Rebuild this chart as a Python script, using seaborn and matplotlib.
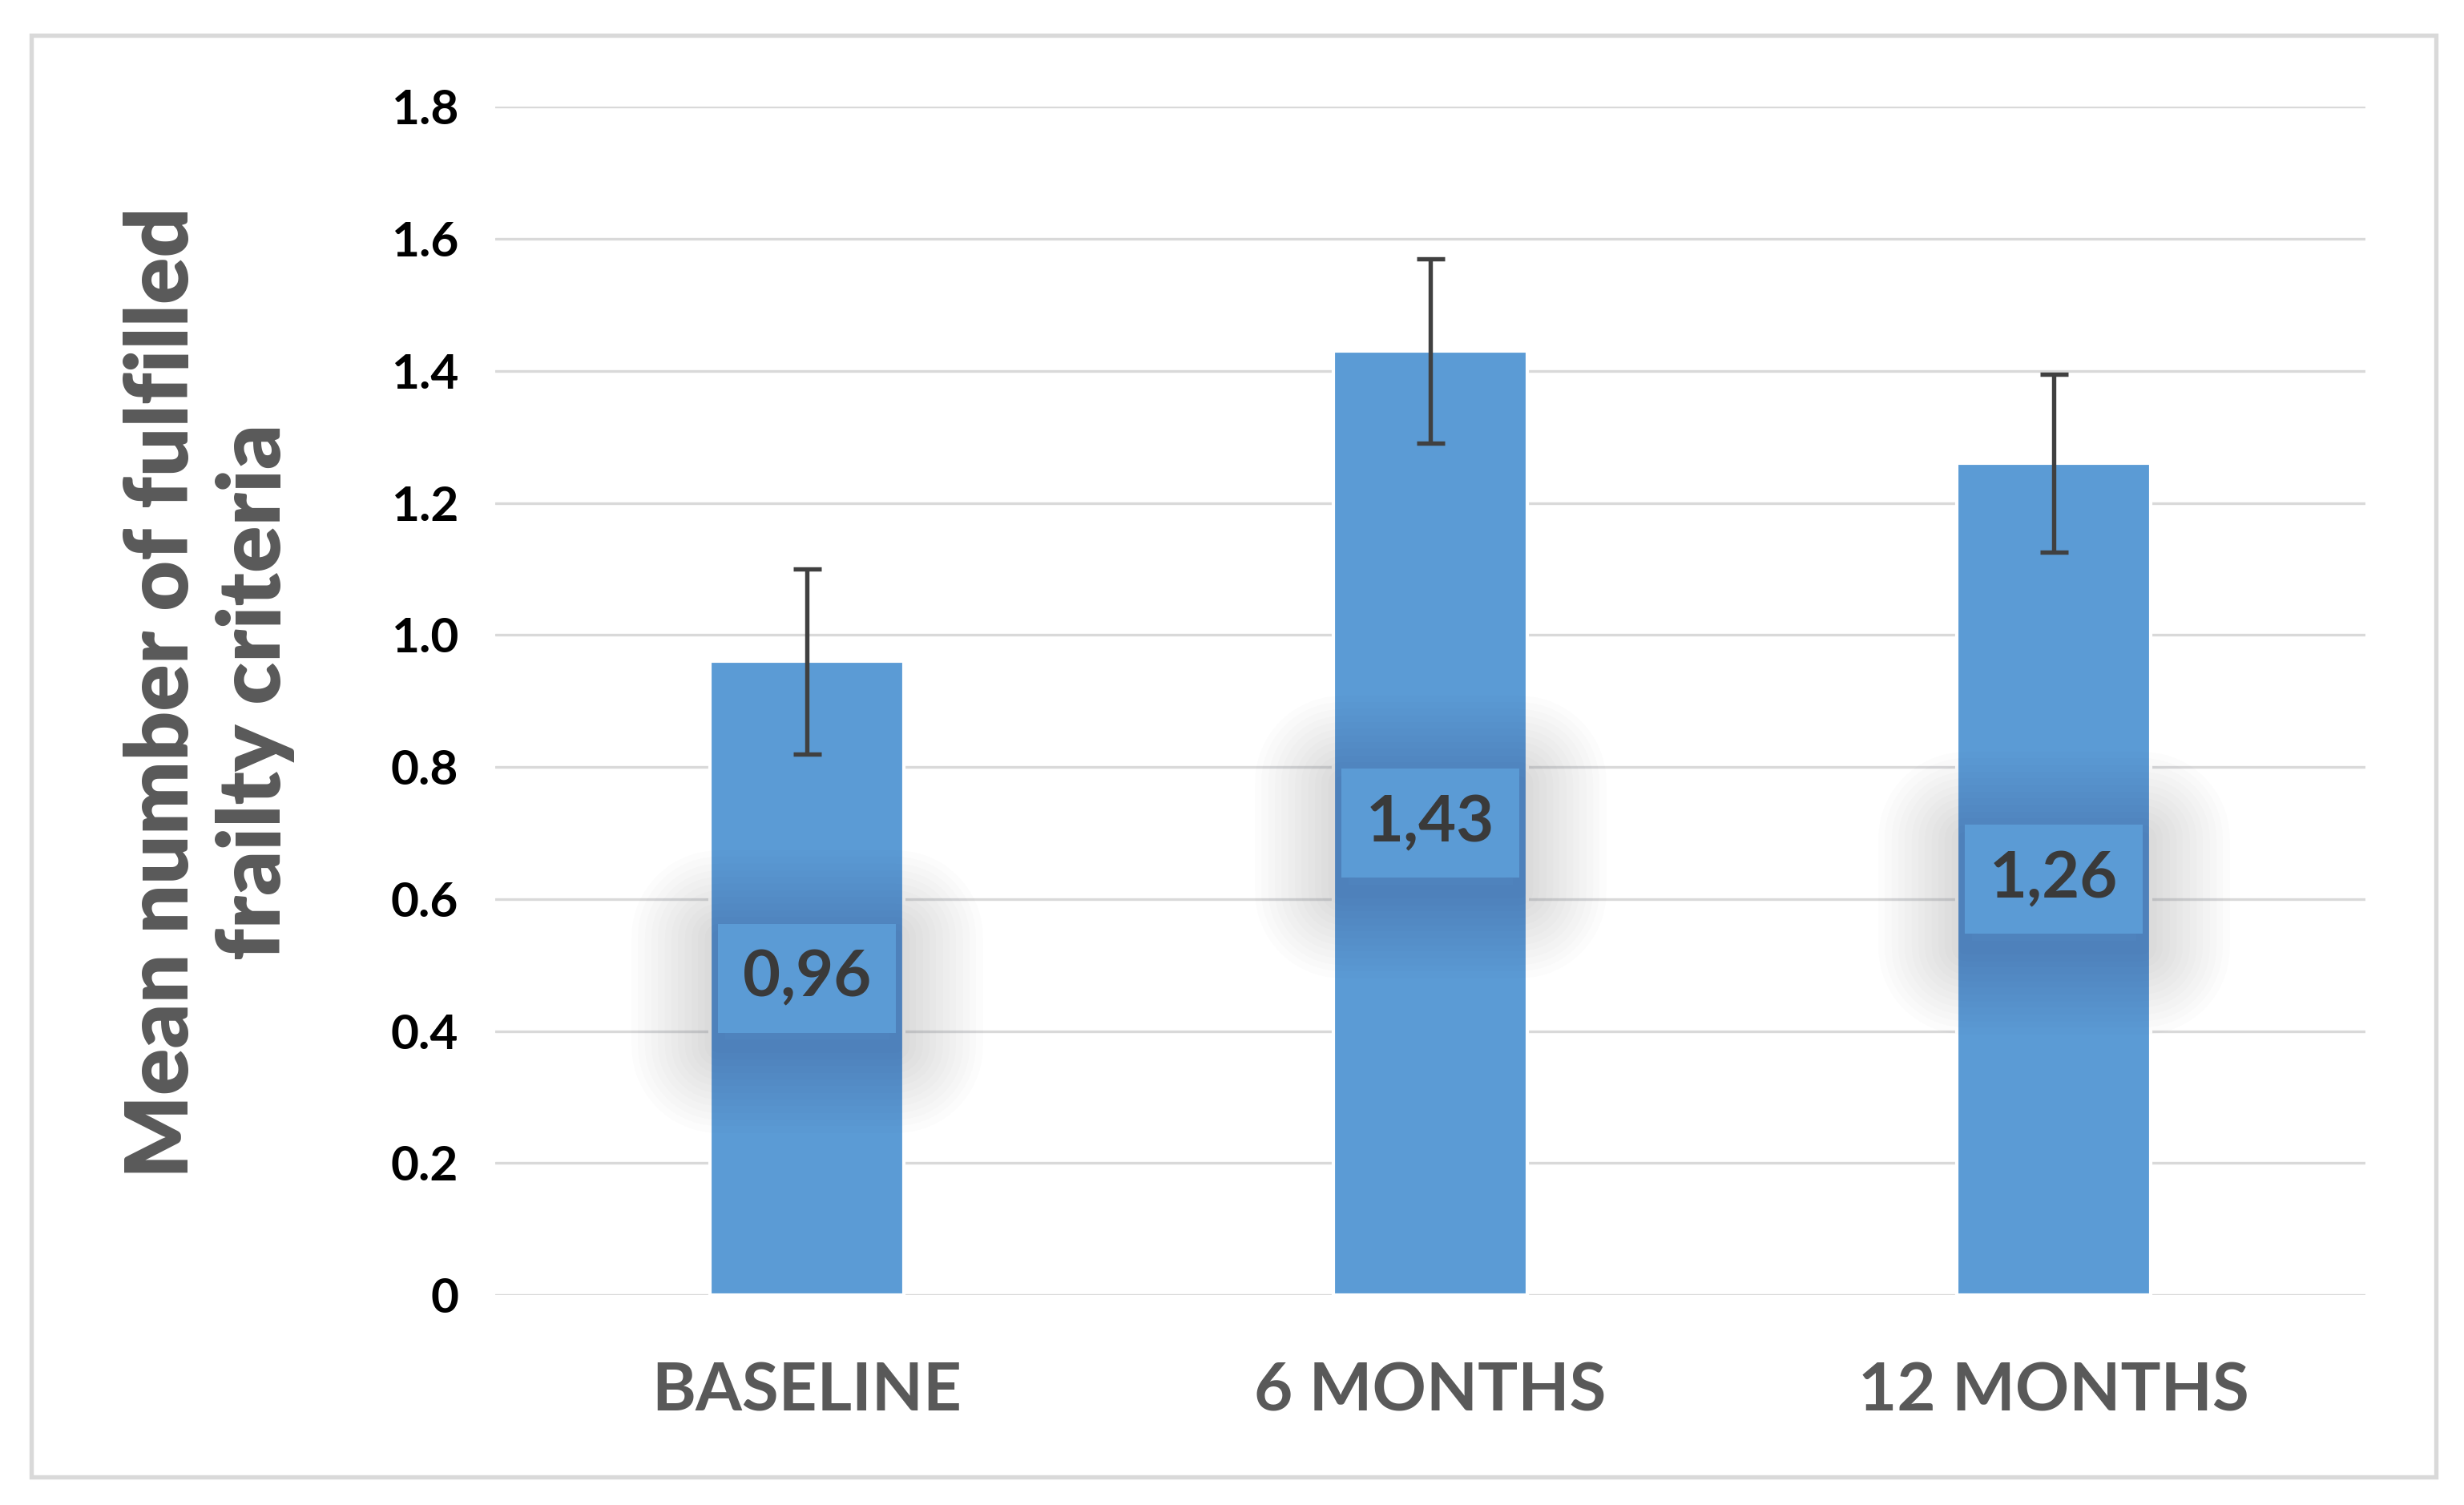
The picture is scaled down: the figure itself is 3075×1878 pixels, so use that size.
import matplotlib
matplotlib.use("Agg")
import matplotlib.pyplot as plt
import matplotlib.patheffects as pe
from matplotlib.patches import Rectangle
import seaborn as sns
import pandas as pd

# Data
periods = ["BASELINE", "6 MONTHS", "12 MONTHS"]
mean_criteria = [0.96, 1.43, 1.26]
error_sizes = [0.14, 0.14, 0.135]
y_ticks = [0, 0.2, 0.4, 0.6, 0.8, 1.0, 1.2, 1.4, 1.6, 1.8]
y_tick_labels = ["0", "0.2", "0.4", "0.6", "0.8", "1.0", "1.2", "1.4", "1.6", "1.8"]

df = pd.DataFrame({"Period": periods, "Mean": mean_criteria})

sns.set_style("white")
plt.rcParams["font.family"] = ["Lato", "DejaVu Sans"]

fig = plt.figure(figsize=(10.25, 6.26), dpi=300)
ax = fig.add_axes([0.201, 0.1395, 0.759, 0.7895])

sns.barplot(data=df, x="Period", y="Mean", color="#5B9BD5", saturation=1,
            width=0.31, errorbar=None, ax=ax, zorder=2)

# error bars at bar centres
xs = [p.get_x() + p.get_width() / 2 for p in ax.patches]
ax.errorbar(xs, mean_criteria, yerr=error_sizes, fmt="none", ecolor="#404040",
            elinewidth=1.3, capsize=4.2, capthick=1.3, zorder=4)

# data labels with a soft shadow around them
for x, v in zip(xs, mean_criteria):
    t = ax.text(x, v / 2, f"{v:.2f}".replace(".", ","), ha="center", va="center",
                fontsize=19.5, color="#3a3a3a", fontweight="bold", zorder=5,
                bbox=dict(boxstyle="square,pad=0.38", facecolor="#5B9BD5",
                          edgecolor="none"))
    glow = []
    for lw in range(52, 2, -4):
        glow.append(pe.Stroke(linewidth=lw, foreground="#262b30", alpha=0.013,
                              offset=(0, -4), joinstyle="round"))
    glow.append(pe.Normal())
    t.get_bbox_patch().set_path_effects(glow)

ax.set_ylim(0, 1.8)
ax.set_xlim(-0.5, 2.5)
ax.set_yticks(y_ticks)
ax.set_yticklabels(y_tick_labels, fontsize=14.5, fontweight="bold", color="black")
ax.tick_params(axis="y", length=0, pad=11)
ax.tick_params(axis="x", length=0, pad=20)
for lab in ax.get_xticklabels():
    lab.set_fontsize(20)
    lab.set_fontweight("bold")
    lab.set_color("#595959")
ax.set_xlabel("")
ax.set_ylabel("")
ax.yaxis.grid(True, color="#D9D9D9", linewidth=0.8, zorder=0)
ax.set_axisbelow(True)
sns.despine(ax=ax, left=True, bottom=True)

fig.text(0.085, 0.54, "Mean number of fulfilled\nfrailty criteria", rotation=90,
         ha="center", va="center", multialignment="center", fontsize=26,
         fontweight="heavy", color="#595959", linespacing=1.2)

# outer chart border
fig.patches.append(Rectangle((0.0127, 0.0186), 0.976, 0.958, transform=fig.transFigure,
                             fill=False, edgecolor="#D9D9D9", linewidth=1.3))

fig.savefig("out.png", dpi=300, facecolor="white")
